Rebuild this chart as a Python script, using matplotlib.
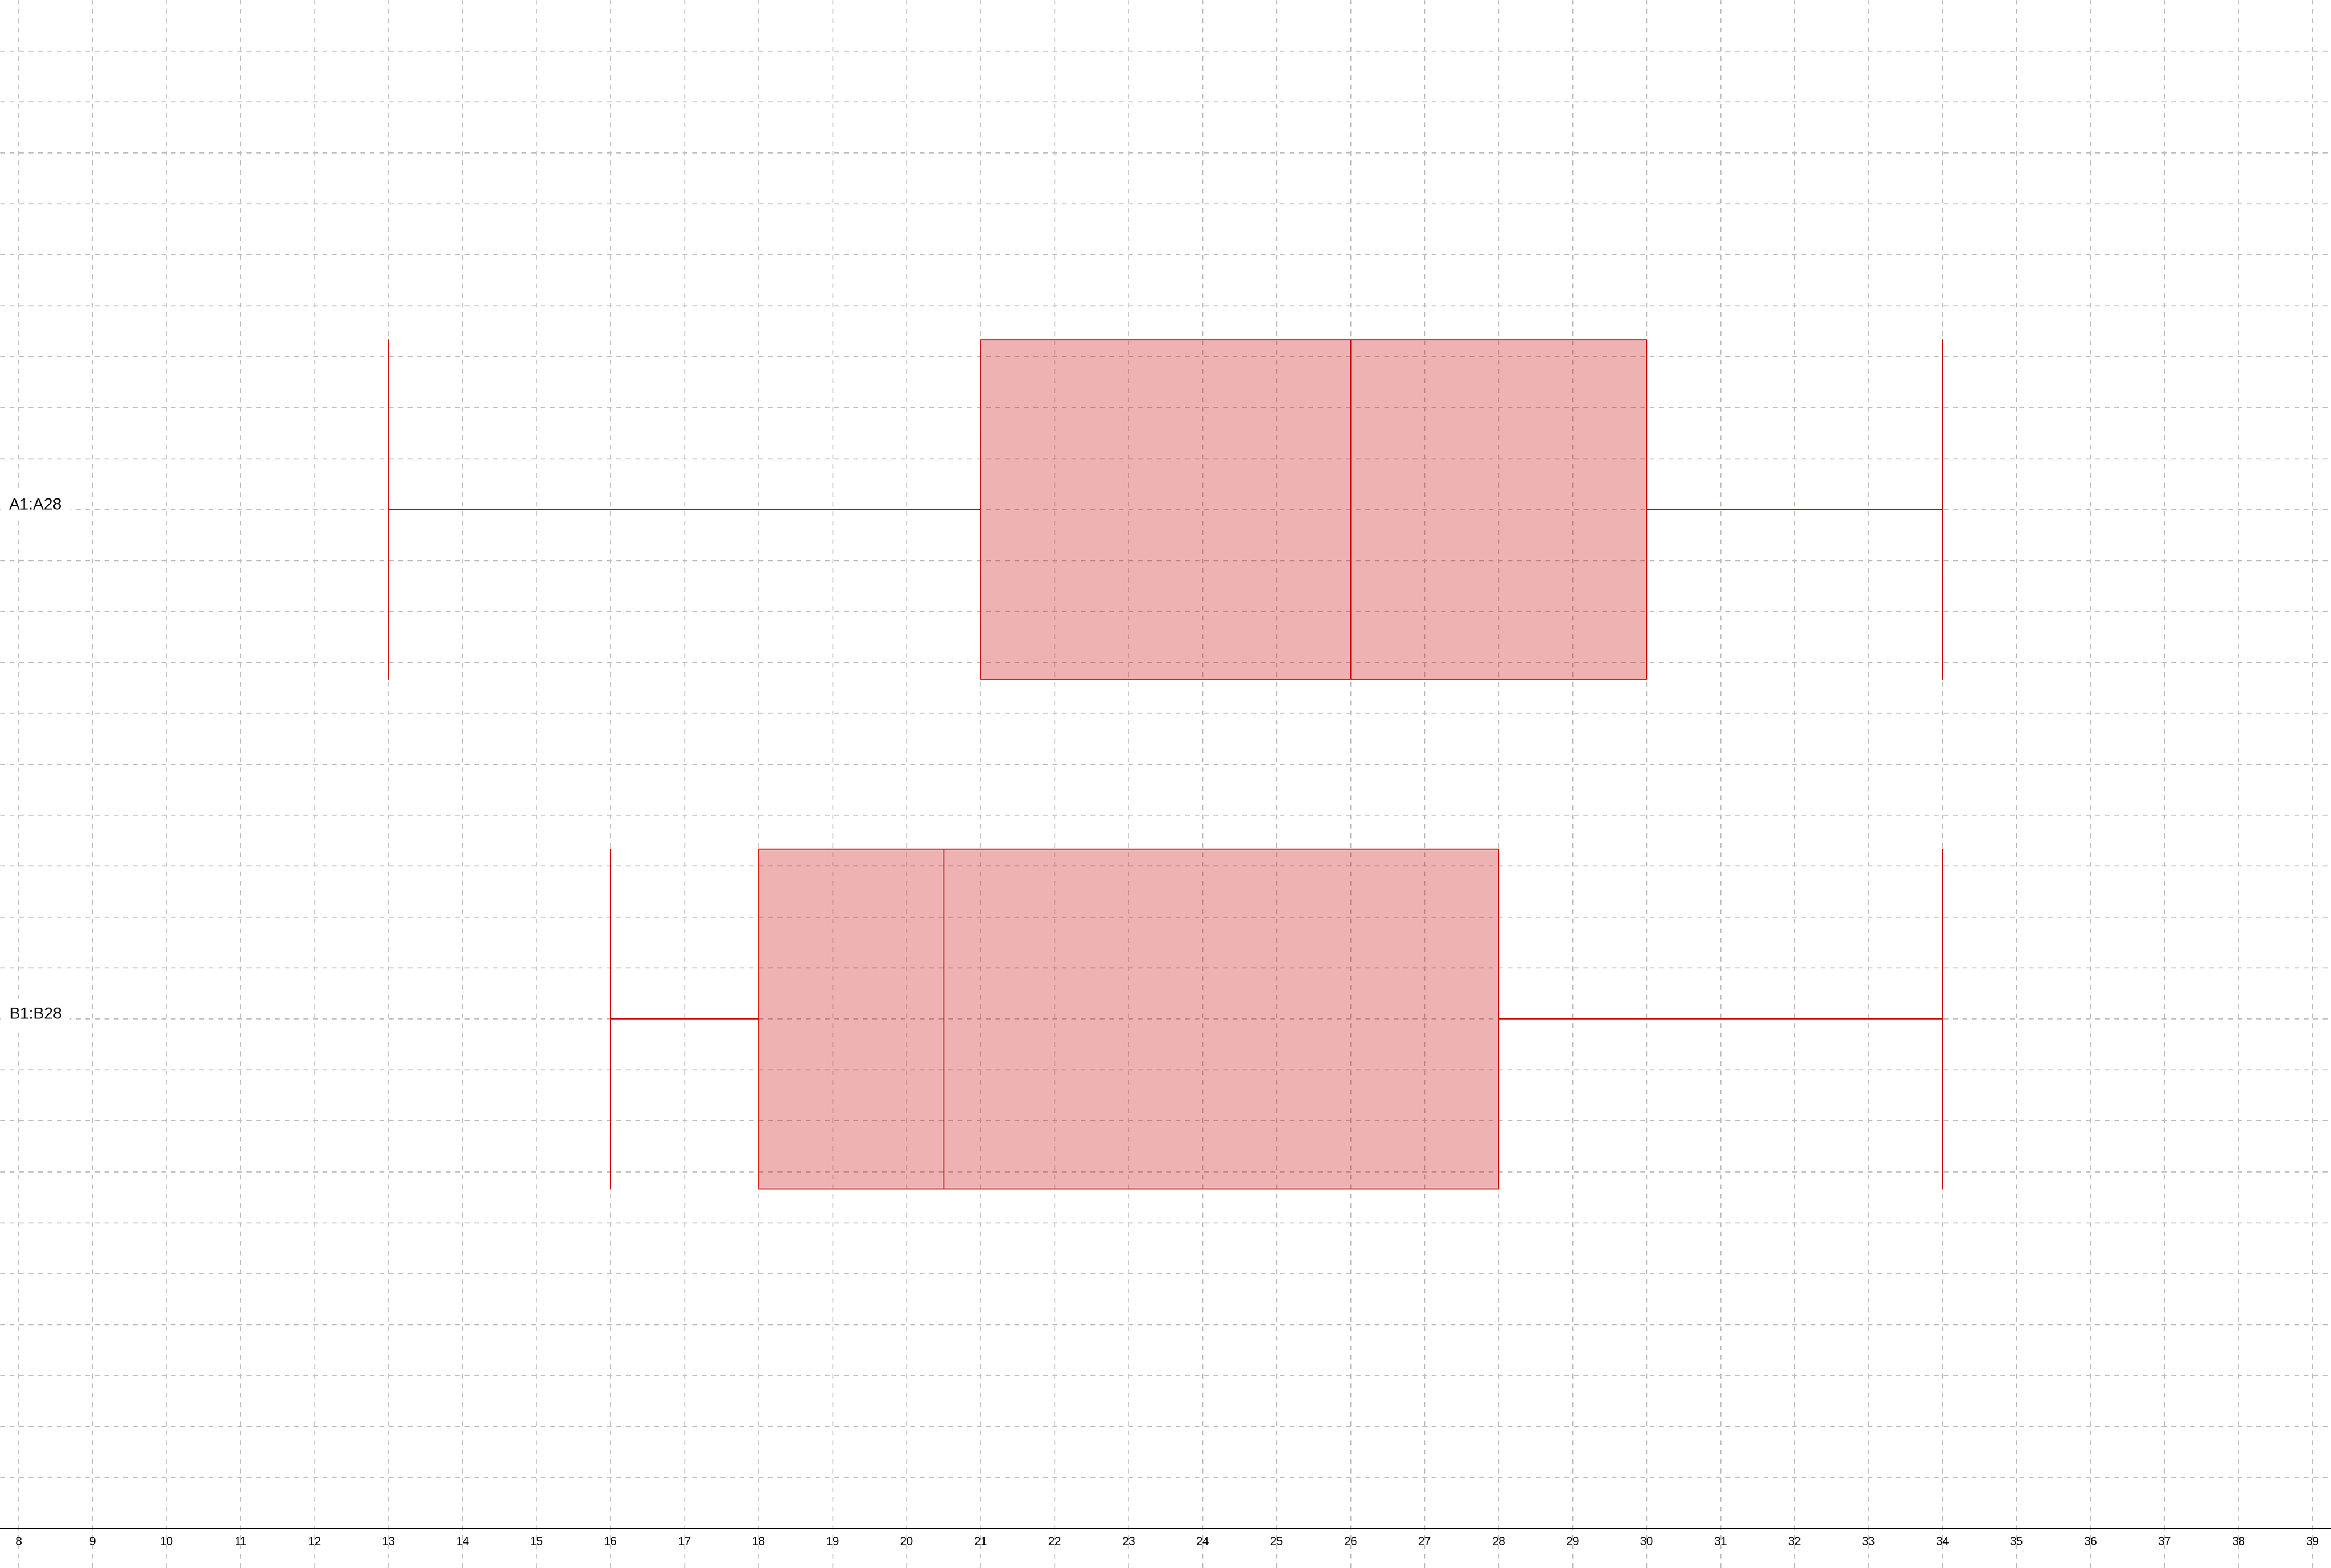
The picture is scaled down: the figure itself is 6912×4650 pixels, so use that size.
import numpy as np
import matplotlib
matplotlib.use("Agg")
import matplotlib.pyplot as plt

# box statistics
labels = ["A1:A28", "B1:B28"]
mins = [13, 16]
q1s = [21, 18]
medians = [26, 20.5]
q3s = [30, 28]
maxs = [34, 34]
xticks = list(range(8, 40))

RED = "#cc0000"
FILL = (200 / 255, 0, 0, 0.3)
GRID = "#c0c0c0"

plt.rcParams["font.family"] = ["Liberation Sans", "DejaVu Sans"]

fig = plt.figure(figsize=(17.28, 11.625), dpi=400)
ax = fig.add_axes([0, 0, 1, 1])

stats = []
for lab, lo, a, m, b, hi in zip(labels, mins, q1s, medians, q3s, maxs):
    stats.append(dict(label=lab, whislo=lo, q1=a, med=m, q3=b, whishi=hi, fliers=[]))

pos = np.arange(1, len(stats) + 1)
lw = 0.55
ax.bxp(stats, positions=pos, widths=2 / 3, capwidths=2 / 3, orientation="horizontal",
       patch_artist=True, manage_ticks=False, showfliers=False,
       boxprops=dict(facecolor=FILL, edgecolor=RED, linewidth=lw),
       medianprops=dict(color=RED, linewidth=lw),
       whiskerprops=dict(color=RED, linewidth=lw),
       capprops=dict(color=RED, linewidth=lw), zorder=3)

for p, lab in zip(pos, labels):
    ax.text(0.0039, p, lab, transform=ax.get_yaxis_transform(), fontsize=8.6, va="baseline",
            ha="left", color="black", zorder=4,
            bbox=dict(facecolor="white", edgecolor="none", boxstyle="square,pad=0.5"))

# x scale: 8..39 with a quarter unit of space at each side
ax.set_xlim(7.75, 39.25)
ax.set_xticks(xticks)
ax.set_xticklabels([str(t) for t in xticks])
# y: categories at 1 and 2, axis line at 3, dashed rows every 0.1
ax.set_ylim(3 * 4650 / 4532, 0)
ax.set_yticks(np.round(np.arange(0.1, 3.0, 0.1), 1))
ax.tick_params(axis="y", left=False, labelleft=False)
ax.tick_params(axis="x", length=0, pad=4.3, labelsize=6.3)

ax.set_axisbelow(True)
ax.grid(True, color=GRID, linewidth=0.55, linestyle=(0, (4.6, 4.6)))

for s in ["top", "left", "right"]:
    ax.spines[s].set_visible(False)
ax.spines["bottom"].set_position(("data", 3.0))
ax.spines["bottom"].set_linewidth(0.6)
ax.spines["bottom"].set_color("black")
ax.patch.set_facecolor("white")

fig.savefig("out.png", dpi=400, facecolor="white")
